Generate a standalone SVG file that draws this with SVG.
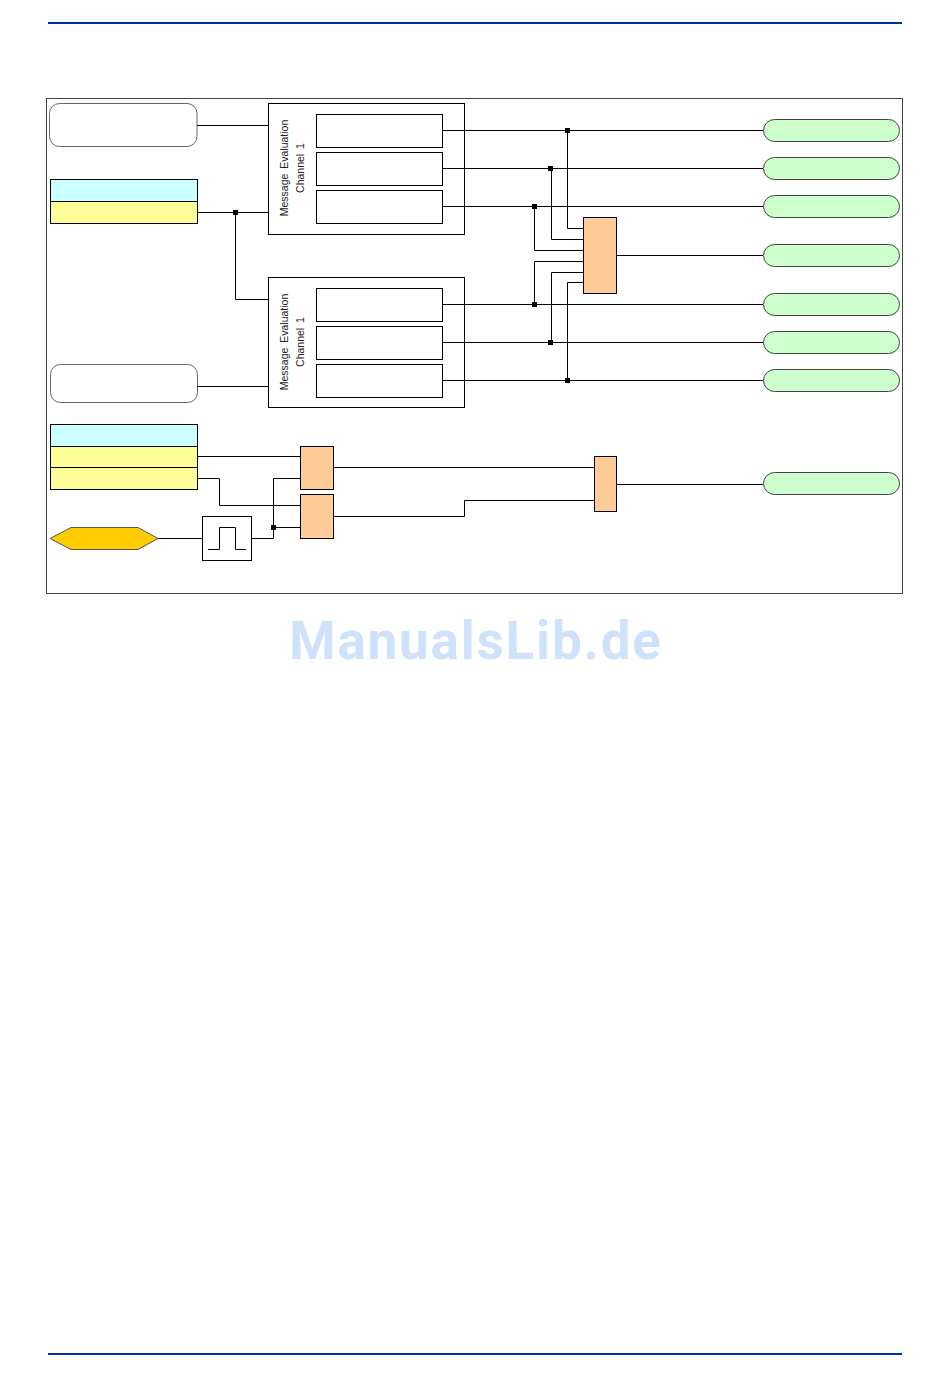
<svg xmlns="http://www.w3.org/2000/svg" width="950" height="1387" viewBox="0 0 950 1387">
<style>
.b{fill:#fff;stroke:#000;stroke-width:1}
.r{fill:#fff;stroke:#666;stroke-width:1}
.c{fill:#ccffff;stroke:#000;stroke-width:1}
.y{fill:#ffff99;stroke:#000;stroke-width:1}
.o{fill:#ffcc99;stroke:#000;stroke-width:1}
.g{fill:#ccffcc;stroke:#444;stroke-width:1}
.l{fill:none;stroke:#000;stroke-width:1}
.t{font-family:"Liberation Sans",Arial,sans-serif;font-size:10.500px;fill:#222;text-anchor:middle;word-spacing:2px}
.j{fill:#000}
.rule{stroke:#003399;stroke-width:2}
</style>
<line class="rule" x1="48" y1="23" x2="902" y2="23"/>
<line class="rule" x1="48" y1="1354" x2="902" y2="1354"/>
<rect id="frame" x="46.500" y="98.500" width="856" height="495" fill="#fff" stroke="#444" stroke-width="1"/>
<g id="input1"><rect class="r" x="49.500" y="103.500" width="147.500" height="43" rx="10"/></g>
<g id="setting1"><rect class="c" x="50.500" y="179.500" width="147" height="22"/><rect class="y" x="50.500" y="201.500" width="147" height="22"/></g>
<g id="input2"><rect class="r" x="50.500" y="364.500" width="147" height="38" rx="10"/></g>
<g id="eval1">
<rect class="b" x="268.500" y="103.500" width="196" height="131"/>
<rect class="b" x="316.500" y="114.500" width="126" height="33"/>
<rect class="b" x="316.500" y="152.500" width="126" height="33"/>
<rect class="b" x="316.500" y="190.500" width="126" height="33"/>
<text class="t" transform="translate(288 168) rotate(-90)">Message Evaluation</text>
<text class="t" transform="translate(303.500 168) rotate(-90)">Channel 1</text>
</g>
<g id="eval2">
<rect class="b" x="268.500" y="277.500" width="196" height="130"/>
<rect class="b" x="316.500" y="288.500" width="126" height="33"/>
<rect class="b" x="316.500" y="326.500" width="126" height="33"/>
<rect class="b" x="316.500" y="364.500" width="126" height="33"/>
<text class="t" transform="translate(288 342) rotate(-90)">Message Evaluation</text>
<text class="t" transform="translate(303.500 342) rotate(-90)">Channel 1</text>
</g>
<g id="gate1"><rect class="o" x="583.500" y="217.500" width="33" height="76"/></g>
<g id="out1"><rect class="g" x="763.500" y="119.500" width="136" height="22" rx="11"/></g>
<g id="out2"><rect class="g" x="763.500" y="157.500" width="136" height="22" rx="11"/></g>
<g id="out3"><rect class="g" x="763.500" y="195.500" width="136" height="22" rx="11"/></g>
<g id="out4"><rect class="g" x="763.500" y="244.500" width="136" height="22" rx="11"/></g>
<g id="out5"><rect class="g" x="763.500" y="293.500" width="136" height="22" rx="11"/></g>
<g id="out6"><rect class="g" x="763.500" y="331.500" width="136" height="22" rx="11"/></g>
<g id="out7"><rect class="g" x="763.500" y="369.500" width="136" height="22" rx="11"/></g>
<g id="out8"><rect class="g" x="763.500" y="472.500" width="136" height="22" rx="11"/></g>
<g id="setting2">
<rect class="c" x="50.500" y="424.500" width="147" height="22"/>
<rect class="y" x="50.500" y="446.500" width="147" height="21"/>
<rect class="y" x="50.500" y="467.500" width="147" height="22"/>
</g>
<g id="hex"><polygon points="50,538.500 71,527.500 138,527.500 158,538.500 138,549.500 71,549.500" fill="#ffcc00" stroke="#555" stroke-width="1"/></g>
<g id="pulse">
<rect class="b" x="202.500" y="516.500" width="49" height="44"/>
<path class="l" d="M208 549.500H219.500V527.500H235.500V549.500H246"/>
</g>
<g id="gate2"><rect class="o" x="300.500" y="446.500" width="33" height="43"/></g>
<g id="gate3"><rect class="o" x="300.500" y="494.500" width="33" height="44"/></g>
<g id="gate4"><rect class="o" x="594.500" y="456.500" width="22" height="55"/></g>
<g id="connectors">
<path class="l" d="M197 125.500H268M197 212.500H268M235.500 212.500V299.500H268M197 386.500H268"/>
<path class="l" d="M442 130.500H763M442 168.500H763M442 206.500H763M442 304.500H763M442 342.500H763M442 380.500H763M616 255.500H763"/>
<path class="l" d="M567.500 130.500V228.500H583M551.500 168.500V239.500H583M534.500 206.500V250.500H583M534.500 304.500V261.500H583M551.500 342.500V272.500H583M567.500 380.500V282.500H583"/>
<path class="l" d="M197 456.500H300M197 478.500H219.500V505.500H300M158 538.500H202M251 538.500H273.500V478.500H300M273.500 527.500H300M333 467.500H594M333 516.500H464.500V500.500H594M616 484.500H763"/>
<g class="j">
<rect x="233" y="210" width="5" height="5"/>
<rect x="565" y="128" width="5" height="5"/>
<rect x="548" y="166" width="5" height="5"/>
<rect x="532" y="204" width="5" height="5"/>
<rect x="532" y="302" width="5" height="5"/>
<rect x="548" y="340" width="5" height="5"/>
<rect x="565" y="378" width="5" height="5"/>
<rect x="271" y="525" width="5" height="5"/>
</g>
</g>
<text id="watermark" x="476" y="659" font-family="Roboto,sans-serif" font-weight="700" font-size="53" letter-spacing="1.800" fill="#cfe2fb" text-anchor="middle">ManualsLib.de</text>
</svg>
